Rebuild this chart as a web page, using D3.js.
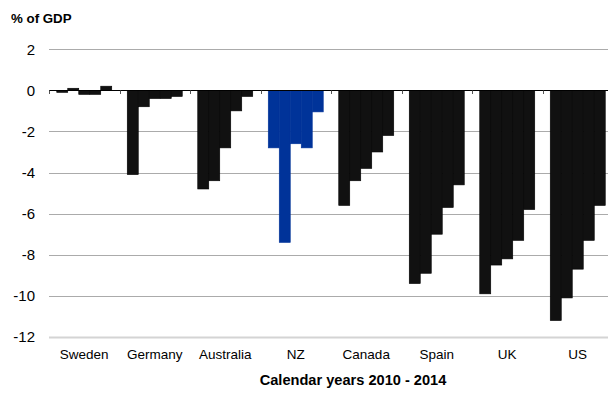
<!DOCTYPE html>
<html>
<head>
<meta charset="utf-8">
<script src="https://cdn.jsdelivr.net/npm/d3@7/dist/d3.min.js"></script>
<style>
  html, body { margin: 0; padding: 0; background: #fff; }
  svg { display: block; font-family: "Liberation Sans", Arial, sans-serif; }
</style>
</head>
<body>
<svg id="chart" width="608" height="394"></svg>
<script>
// Fiscal balance, % of GDP, calendar years 2010-2014
const countries = ["Sweden", "Germany", "Australia", "NZ", "Canada", "Spain", "UK", "US"];
const years = ["2010", "2011", "2012", "2013", "2014"];
const sweden    = [-0.1, 0.1, -0.2, -0.2, 0.2];
const germany   = [-4.1, -0.8, -0.4, -0.4, -0.3];
const australia = [-4.8, -4.4, -2.8, -1.0, -0.3];
const nz        = [-2.8, -7.4, -2.6, -2.8, -1.05];
const canada    = [-5.6, -4.4, -3.8, -3.0, -2.2];
const spain     = [-9.4, -8.9, -7.0, -5.7, -4.6];
const uk        = [-9.9, -8.5, -8.2, -7.3, -5.8];
const us        = [-11.2, -10.1, -8.7, -7.3, -5.6];
const yTicks = [2, 0, -2, -4, -6, -8, -10, -12];
const highlight = "NZ";

const seriesByCountry = [sweden, germany, australia, nz, canada, spain, uk, us];
const rows = countries.map((c, i) => ({ country: c, values: seriesByCountry[i] }));

const svg = d3.select("#chart");

const x0 = d3.scaleBand().domain(countries).range([49, 613]).padding(0);
const bw = x0.bandwidth();
const x1 = d3.scaleBand().domain(years).range([bw * 0.11, bw * 0.89]).padding(0);
const y = d3.scaleLinear().domain([-12, 2]).range([337, 49.2]);

// Horizontal gridlines
svg.append("g").selectAll("line")
  .data(yTicks.filter(t => t !== 0))
  .join("line")
  .attr("x1", 49).attr("x2", 613)
  .attr("y1", d => Math.round(y(d)) + 0.5).attr("y2", d => Math.round(y(d)) + 0.5)
  .attr("stroke", d => d === -12 ? "#d4d4d4" : "#ababab")
  .attr("stroke-width", d => d === -12 ? 2 : 1);

// Y tick labels
svg.append("g").selectAll("text")
  .data(yTicks)
  .join("text")
  .attr("x", 35)
  .attr("y", d => y(d))
  .attr("dy", "0.36em")
  .attr("text-anchor", "end")
  .attr("font-size", 15)
  .attr("fill", "#000")
  .text(d => String(d));

// Bars
const groups = svg.append("g").selectAll("g")
  .data(rows)
  .join("g")
  .attr("transform", d => `translate(${x0(d.country)},0)`);

groups.selectAll("rect")
  .data(d => d.values.map((v, i) => ({ country: d.country, year: years[i], value: v })))
  .join("rect")
  .attr("x", d => x1(d.year))
  .attr("width", x1.bandwidth())
  .attr("y", d => y(Math.max(0, d.value)))
  .attr("height", d => Math.abs(y(d.value) - y(0)))
  .attr("fill", d => d.country === highlight ? "#003399" : "#111111")
  .attr("stroke", d => d.country === highlight ? "#003399" : "#000")
  .attr("stroke-width", 0.6);

// Zero line with category tick marks
const y0 = Math.round(y(0)) + 0.5;
svg.append("line")
  .attr("x1", 49).attr("x2", 613)
  .attr("y1", y0).attr("y2", y0)
  .attr("stroke", "#000").attr("stroke-width", 1);

svg.append("g").selectAll("line")
  .data(countries)
  .join("line")
  .attr("x1", d => Math.round(x0(d)) + 0.5).attr("x2", d => Math.round(x0(d)) + 0.5)
  .attr("y1", y0).attr("y2", y0 + 3.5)
  .attr("stroke", "#555").attr("stroke-width", 1);

// Category labels, centred under each group
svg.append("g").selectAll("text")
  .data(countries)
  .join("text")
  .attr("x", d => x0(d) + bw / 2)
  .attr("y", 359)
  .attr("text-anchor", "middle")
  .attr("font-size", 13.5)
  .attr("fill", "#000")
  .text(d => d);

// Titles
svg.append("text")
  .attr("x", 11).attr("y", 23.3)
  .attr("font-size", 13.3).attr("font-weight", "bold")
  .text("% of GDP");

svg.append("text")
  .attr("x", 353).attr("y", 385)
  .attr("text-anchor", "middle")
  .attr("font-size", 14.6).attr("font-weight", "bold")
  .text("Calendar years 2010 - 2014");
</script>
</body>
</html>
